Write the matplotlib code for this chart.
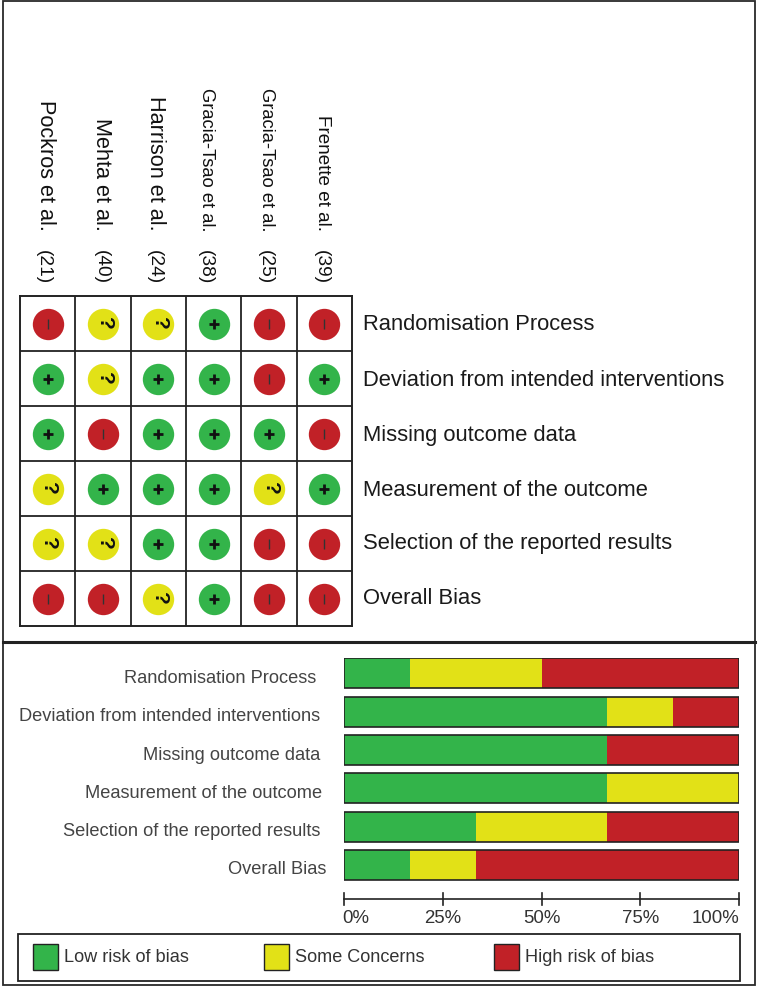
import matplotlib
matplotlib.use('Agg')
import matplotlib.pyplot as plt
from matplotlib.patches import Rectangle

plt.rcParams['font.family'] = ['Liberation Sans', 'DejaVu Sans']

W, H = 759, 991

studies = ['Pockros et al.', 'Mehta et al.', 'Harrison et al.', 'Gracia-Tsao et al.', 'Gracia-Tsao et al.', 'Frenette et al.']
refs = ['(21)', '(40)', '(24)', '(38)', '(25)', '(39)']
domains = ['Randomisation Process', 'Deviation from intended interventions', 'Missing outcome data',
           'Measurement of the outcome', 'Selection of the reported results', 'Overall Bias']

# one row per domain, one letter per study
judgements = [
    ['-', '?', '?', '+', '-', '-'],
    ['+', '?', '+', '+', '-', '+'],
    ['+', '-', '+', '+', '+', '-'],
    ['?', '+', '+', '+', '?', '+'],
    ['?', '?', '+', '+', '-', '-'],
    ['-', '-', '?', '+', '-', '-'],
]

low_pct = [16.7, 66.7, 66.7, 66.7, 33.3, 16.7]
some_pct = [33.3, 16.7, 0, 33.3, 33.3, 16.7]
high_pct = [50.0, 16.6, 33.3, 0, 33.4, 66.6]

ticks = [0, 25, 50, 75, 100]
tick_labels = ['0%', '25%', '50%', '75%', '100%']
legend_labels = ['Low risk of bias', 'Some Concerns', 'High risk of bias']

GREEN = '#33b44a'
YELLOW = '#e2e117'
RED = '#c12127'
colors = {'+': GREEN, '?': YELLOW, '-': RED}


def px_axes(left, top, right, bottom):
    return fig.add_axes([left / W, 1 - bottom / H, (right - left) / W, (bottom - top) / H])


fig = plt.figure(figsize=(W / 100, H / 100), dpi=100)

# page frame, everything in here is in pixels
page = px_axes(0, 0, W, H)
page.set_xlim(0, W)
page.set_ylim(H, 0)
page.axis('off')
page.add_patch(Rectangle((3, 1), 752, 984, fill=False, ec='#2a2a2a', lw=1.3))
page.plot([3, 755], [642, 642], color='#222222', lw=2.2)

# top panel, the grid of circles
grid = px_axes(20, 296, 352, 626)
grid.set_xlim(0, 6)
grid.set_ylim(6, 0)
grid.set_xticks([])
grid.set_yticks([])
for i in range(1, 6):
    grid.axhline(i, color='#222222', lw=1.3)
    grid.axvline(i, color='#222222', lw=1.3)
for s in grid.spines.values():
    s.set_linewidth(1.4)
    s.set_color('#222222')

for r, row in enumerate(judgements):
    for c, j in enumerate(row):
        grid.scatter(c + 0.5, r + 0.5, s=510, color=colors[j], linewidths=0, zorder=3)
        if j == '+':
            grid.scatter(c + 0.5, r + 0.5, s=62, marker='+', color='#111111', linewidths=2.0, zorder=4)
        elif j == '?':
            grid.text(c + 0.52, r + 0.5, '?', ha='center', va='center', fontsize=15, fontweight='bold',
                      rotation=-90, color='#111111', zorder=4)
        else:
            grid.scatter(c + 0.5, r + 0.5, s=50, marker='|', color='#333333', linewidths=1.0, zorder=4)

# study names sit a bit off the columns and are squeezed differently in the original
name_x = [45, 101, 155, 206, 267, 322]
ref_x = [43, 101, 154, 205, 265, 321]
name_size = [15.6, 15.6, 15.6, 13.2, 13.2, 13.6]
for i in range(6):
    page.text(name_x[i], 231, studies[i], rotation=-90, ha='center', va='bottom', fontsize=name_size[i],
              color='#111111')
    page.text(ref_x[i], 250, refs[i], rotation=-90, ha='center', va='top', fontsize=13.8, color='#111111')

row_y = [325, 380, 435, 490, 544, 599]
for lab, y in zip(domains, row_y):
    page.text(363, y, lab, ha='left', va='center', fontsize=15.8, color='#1a1a1a')

# bottom panel, stacked bars
bars = px_axes(344, 658, 739, 888)
bars.set_xlim(0, 100)
bars.set_ylim(5.6, -0.4)
bars.axis('off')
left2 = [a + b for a, b in zip(low_pct, some_pct)]
pos = list(range(6))
bars.barh(pos, low_pct, height=0.78, color=GREEN, linewidth=0.0)
bars.barh(pos, some_pct, left=low_pct, height=0.78, color=YELLOW, linewidth=0.0)
bars.barh(pos, high_pct, left=left2, height=0.78, color=RED, linewidth=0.0)
for p in pos:
    bars.add_patch(Rectangle((0, p - 0.39), 100, 0.78, fill=False, ec='#222222', lw=1.2, zorder=4))

label_right = [316, 320, 320, 322, 320, 326]
for lab, p, xr in zip(domains, pos, label_right):
    y = bars.transData.transform((0, p))[1]
    page.text(xr, H - y + 5, lab, ha='right', va='center', fontsize=13.15, color='#444444')

# x axis on its own
ax_x = px_axes(344, 893, 739, 930)
ax_x.set_xlim(0, 100)
ax_x.set_ylim(0, 1)
ax_x.patch.set_alpha(0)
for name in ['left', 'right', 'bottom']:
    ax_x.spines[name].set_visible(False)
ax_x.spines['top'].set_position(('axes', 0.84))
ax_x.spines['top'].set_color('#222222')
ax_x.spines['top'].set_linewidth(1.2)
ax_x.set_yticks([])
ax_x.set_xticks([])
for t, tl in zip(ticks, tick_labels):
    ax_x.plot([t, t], [0.68, 1.0], color='#222222', lw=1.2, clip_on=False)
    ha = 'left' if t == 0 else ('right' if t == 100 else 'center')
    ax_x.text(t - (0.5 if t == 0 else 0), 0.31, tl, ha=ha, va='center', fontsize=13.4, color='#333333')

# legend box
page.add_patch(Rectangle((18, 934), 722, 47, fill=False, ec='#222222', lw=1.3))
leg_x = [33, 264, 494]
leg_text_x = [64, 295, 525]
leg_text_y = [958, 957, 958]
for x, tx, ty, c, lab in zip(leg_x, leg_text_x, leg_text_y, [GREEN, YELLOW, RED], legend_labels):
    page.add_patch(Rectangle((x, 944), 25, 26, fc=c, ec='#222222', lw=1.0))
    page.text(tx, ty, lab, ha='left', va='center', fontsize=13.1, color='#333333')

fig.savefig('out.png', dpi=100)
